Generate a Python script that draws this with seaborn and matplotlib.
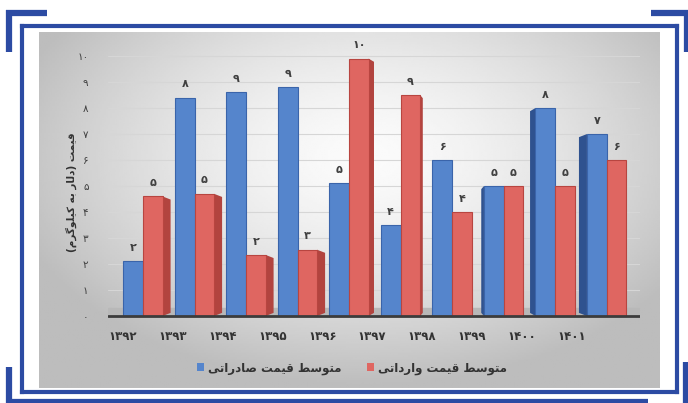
import numpy as np
import pandas as pd
import matplotlib
matplotlib.use("Agg")
import matplotlib.pyplot as plt
from matplotlib.lines import Line2D
from matplotlib.patches import Polygon
from matplotlib.transforms import ScaledTranslation
import seaborn as sns

# data
years = ["۱۳۹۲", "۱۳۹۳", "۱۳۹۴", "۱۳۹۵", "۱۳۹۶", "۱۳۹۷", "۱۳۹۸", "۱۳۹۹", "۱۴۰۰", "۱۴۰۱"]
export_price = [2.1, 8.4, 8.6, 8.8, 5.1, 3.5, 6.0, 5.0, 8.0, 7.0]
import_price = [4.6, 4.7, 2.35, 2.55, 9.9, 8.5, 4.0, 5.0, 5.0, 6.0]
export_labels = ["۲", "۸", "۹", "۹", "۵", "۴", "۶", "۵", "۸", "۷"]
import_labels = ["۵", "۵", "۲", "۳", "۱۰", "۹", "۴", "۵", "۵", "۶"]
y_ticks = ["۰", "۱", "۲", "۳", "۴", "۵", "۶", "۷", "۸", "۹", "۱۰"]
export_name = "متوسط قیمت صادراتی"
import_name = "متوسط قیمت وارداتی"
y_title = "قیمت (دلار به کیلوگرم)"

# matplotlib has no arabic shaping, so pick presentation forms by hand
FORMS = {
    'ا': ('\uFE8D', '\uFE8E', None, None),
    'ب': ('\uFE8F', '\uFE90', '\uFE91', '\uFE92'),
    'ت': ('\uFE95', '\uFE96', '\uFE97', '\uFE98'),
    'د': ('\uFEA9', '\uFEAA', None, None),
    'ر': ('\uFEAD', '\uFEAE', None, None),
    'س': ('\uFEB1', '\uFEB2', '\uFEB3', '\uFEB4'),
    'ص': ('\uFEB9', '\uFEBA', '\uFEBB', '\uFEBC'),
    'ط': ('\uFEC1', '\uFEC2', '\uFEC3', '\uFEC4'),
    'ق': ('\uFED5', '\uFED6', '\uFED7', '\uFED8'),
    'ک': ('\uFB8E', '\uFB8F', '\uFB90', '\uFB91'),
    'گ': ('\uFB92', '\uFB93', '\uFB94', '\uFB95'),
    'ل': ('\uFEDD', '\uFEDE', '\uFEDF', '\uFEE0'),
    'م': ('\uFEE1', '\uFEE2', '\uFEE3', '\uFEE4'),
    'ه': ('\uFEE9', '\uFEEA', '\uFEEB', '\uFEEC'),
    'و': ('\uFEED', '\uFEEE', None, None),
    'ی': ('\uFEEF', '\uFEF0', '\uFEF3', '\uFEF4'),
}
MIRROR = {'(': ')', ')': '('}


def shape(s):
    out = []
    for i, ch in enumerate(s):
        f = FORMS.get(ch)
        if f is None:
            out.append(MIRROR.get(ch, ch))
            continue
        prev = s[i - 1] if i > 0 else ''
        nxt = s[i + 1] if i + 1 < len(s) else ''
        jp = prev in FORMS and FORMS[prev][2] is not None
        jn = nxt in FORMS and f[2] is not None
        idx = {(False, False): 0, (True, False): 1, (False, True): 2, (True, True): 3}[(jp, jn)]
        out.append(f[idx])
    return ''.join(reversed(out))


sns.set_style("white")
plt.rcParams['font.family'] = ['DejaVu Sans']

W, H = 688, 403
fig = plt.figure(figsize=(W / 100, H / 100), dpi=100)
fig.patch.set_facecolor("white")


def fx(x):
    return x / W


def fy(y):
    return 1 - y / H


# blue frame and corner brackets
blue = "#2c4ba3"
frame = [((22, 26), (677, 26)), ((22, 26), (22, 392)), ((677, 26), (677, 392)), ((22, 392), (677, 392))]
for (x0, y0), (x1, y1) in frame:
    fig.add_artist(Line2D([fx(x0), fx(x1)], [fy(y0), fy(y1)], color=blue, lw=3, solid_capstyle="projecting"))
brackets = [((6, 13), (47, 13)), ((9, 10), (9, 52)),
            ((651, 13), (688, 13)), ((687, 10), (687, 52)),
            ((9, 367), (9, 403)), ((6, 402), (648, 402)), ((686, 362), (686, 403))]
for (x0, y0), (x1, y1) in brackets:
    fig.add_artist(Line2D([fx(x0), fx(x1)], [fy(y0), fy(y1)], color=blue, lw=4.5, solid_capstyle="butt"))

# grey gradient panel
bg = fig.add_axes([fx(39), fy(388), fx(660 - 39), (388 - 32) / H], zorder=-1)
gx, gy = np.meshgrid(np.linspace(-1, 1, 300), np.linspace(-1, 1, 200))
r = np.sqrt(((gx - 0.05) / 1.1) ** 2 + ((gy + 0.3) / 1.2) ** 2)
shade = np.clip(0.985 - 0.22 * r ** 1.5, 0.74, 0.985)
bg.imshow(shade, cmap="gray", vmin=0, vmax=1, aspect="auto", origin="upper",
          extent=(0, 1, 0, 1), interpolation="bilinear")
bg.set_axis_off()

ax = fig.add_axes([fx(108), fy(320), fx(640 - 108), (320 - 48) / H])
ax.set_facecolor("none")

df = pd.DataFrame({
    "year": years * 2,
    "value": export_price + import_price,
    "series": [shape(export_name)] * len(years) + [shape(import_name)] * len(years),
})

# floor under the bars
ax.axhspan(0, 0.3, color="#b8b8b8", zorder=0.5)

sns.barplot(data=df, x="year", y="value", hue="series", ax=ax,
            palette=["#5585cc", "#df6661"], saturation=1, width=0.76,
            edgecolor=None, linewidth=0, zorder=2)

ax.axhline(0, color="#3c3c3c", lw=2, zorder=3)

blue_bars = ax.containers[0]
red_bars = ax.containers[1]
for i in range(len(years)):
    for bar, fc in ((blue_bars[i], "#3a64aa"), (red_bars[i], "#b84540")):
        bar.set_edgecolor(fc)
        bar.set_linewidth(0.8)
    # fake depth of the 3d bars
    d = min(8, 2.7 * abs(i - 6)) / 51.5
    if d == 0:
        continue
    if i < 6:
        b = red_bars[i]
        x0 = b.get_x() + b.get_width()
        h = b.get_height()
        pts = [(x0, 0), (x0 + d, 0.12), (x0 + d, h - 0.12), (x0, h)]
        col = "#b2443f"
    else:
        b = blue_bars[i]
        x0 = b.get_x()
        h = b.get_height()
        pts = [(x0, 0), (x0 - d, 0.12), (x0 - d, h - 0.12), (x0, h)]
        col = "#2f528f"
    ax.add_patch(Polygon(pts, closed=True, facecolor=col, edgecolor="none", zorder=1.9))

ax.bar_label(blue_bars, labels=export_labels, padding=6, fontsize=8, fontweight="bold", color="#404040")
ax.bar_label(red_bars, labels=import_labels, padding=6, fontsize=8, fontweight="bold", color="#404040")

ax.set_xlim(-0.68, 9.65)
ax.set_ylim(-0.154, 10.31)
ax.set_yticks(range(len(y_ticks)))
ax.set_yticklabels(y_ticks, fontsize=7.5, color="#404040")
ax.yaxis.grid(True, color="#d6d6d6", lw=0.8)
ax.set_axisbelow(True)
ax.tick_params(axis="y", length=0, pad=14)
ax.tick_params(axis="x", length=0, pad=7, labelsize=8.5, labelcolor="#333333")
for i, lbl in enumerate(ax.get_xticklabels()):
    lbl.set_fontweight("bold")
    lbl.set_transform(lbl.get_transform() + ScaledTranslation((-20 - 1.7 * i) / 100, 0, fig.dpi_scale_trans))
ax.set_xlabel("")
ax.set_ylabel(shape(y_title), fontsize=7.5, fontweight="bold", color="#333333")
ax.yaxis.set_label_coords(-0.058, 0.47)
sns.despine(ax=ax, left=True, bottom=True)

sns.move_legend(ax, "center", bbox_to_anchor=(fx(352), fy(368)), bbox_transform=fig.transFigure,
                ncol=2, frameon=False, title=None, fontsize=8.5, handlelength=0.6, handleheight=0.6,
                handletextpad=0.35, columnspacing=2.2)
for t in ax.get_legend().get_texts():
    t.set_fontweight("bold")
    t.set_color("#333333")

fig.savefig("out.png", dpi=100)
